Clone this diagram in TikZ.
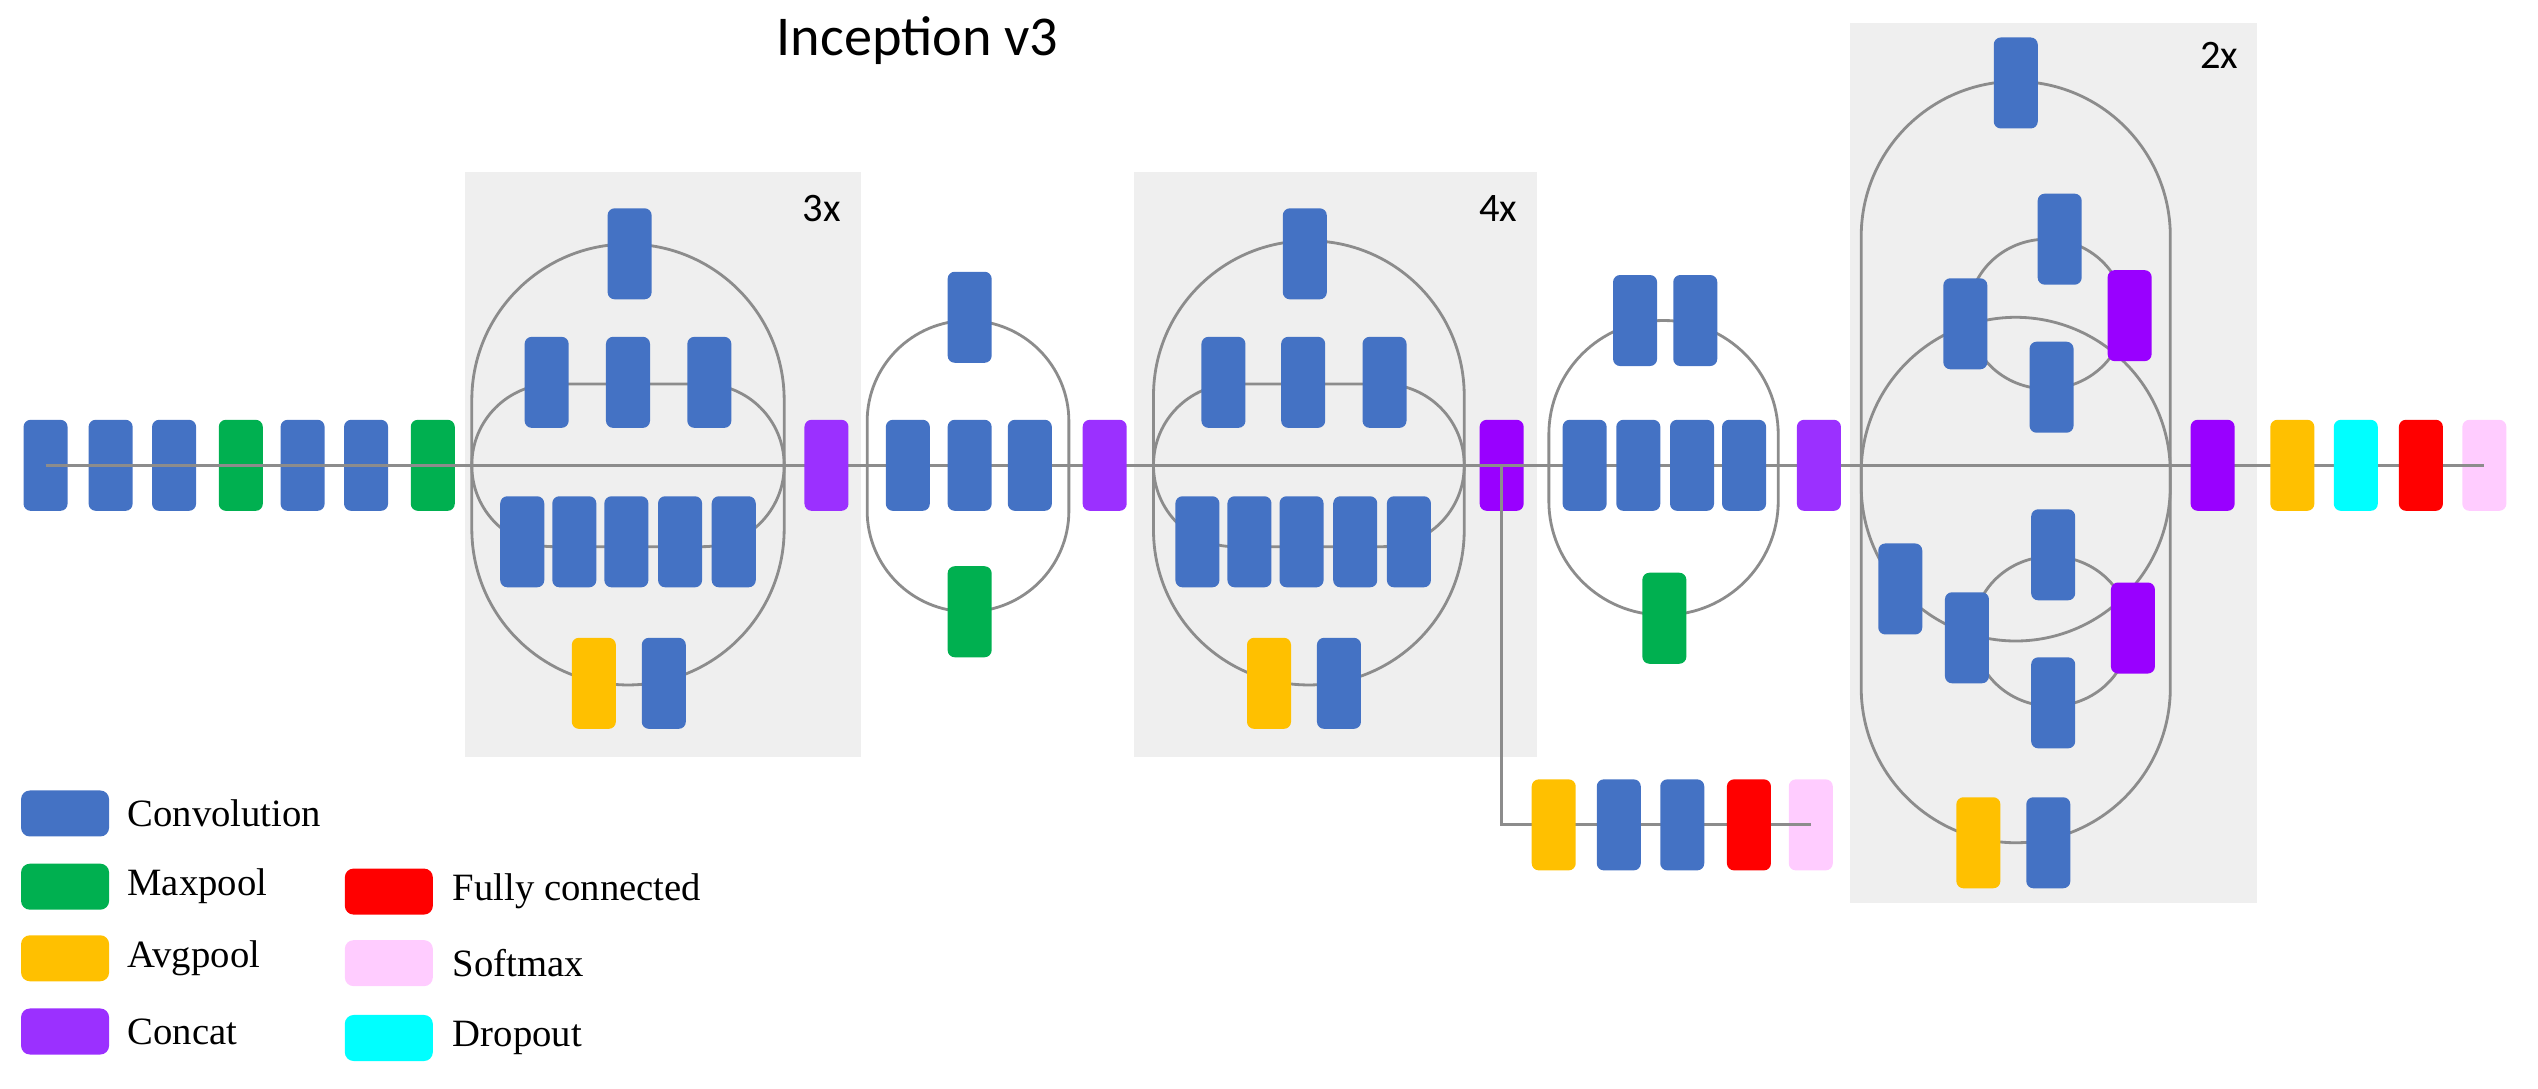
\documentclass[tikz,border=0pt]{standalone}
\usepackage{fontspec}
\setmainfont{Liberation Serif}
\newfontfamily\titlefont{Carlito}
\begin{document}
\definecolor{cconv}{HTML}{4472C4}
\definecolor{cmax}{HTML}{00B050}
\definecolor{cavg}{HTML}{FFC000}
\definecolor{ccat}{HTML}{9B30FF}
\definecolor{ccatb}{HTML}{9900FF}
\definecolor{cfc}{HTML}{FF0000}
\definecolor{csoft}{HTML}{FFCCFF}
\definecolor{cdrop}{HTML}{00FFFF}
\definecolor{cline}{HTML}{8C8C8C}
\definecolor{cbox}{HTML}{EFEFEF}
\begin{tikzpicture}[x=0.01627cm,y=-0.01627cm,
  blk/.style={rectangle,rounded corners=2pt,minimum width=0.44cm,minimum height=0.91cm,inner sep=0pt,draw=none},
  conv/.style={blk,fill=cconv},
  maxp/.style={blk,fill=cmax},
  avgp/.style={blk,fill=cavg},
  cat/.style={blk,fill=ccat},
  catb/.style={blk,fill=ccatb},
  fc/.style={blk,fill=cfc},
  soft/.style={blk,fill=csoft},
  drop/.style={blk,fill=cdrop},
  lg/.style={rectangle,rounded corners=2.5pt,minimum width=0.88cm,minimum height=0.46cm,inner sep=0pt},
  lgt/.style={anchor=west,font=\fontsize{11}{13}\selectfont,inner sep=0pt},
  wire/.style={draw=cline,line width=0.8pt},
  rep/.style={fill=cbox},
  mult/.style={font=\titlefont\fontsize{11.5}{13}\selectfont,inner sep=0pt}]
\useasboundingbox (0,0) rectangle (1560,669);
% grey repeat boxes
\fill[rep] (286,106) rectangle (529,465);
\fill[rep] (697,106) rectangle (945,465);
\fill[rep] (1137,14) rectangle (1387,555);
\node[mult] (m3) at (505,128) {3x};
\node[mult] (m4) at (921,128) {4x};
\node[mult] (m2) at (1364,34) {2x};
\node[font=\titlefont\fontsize{16}{19}\selectfont,inner sep=0pt] (title) at (564,25) {Inception v3};
% loops
\draw[wire,rounded corners=1.56cm] (290,150) rectangle (482,421);
\draw[wire,rounded corners=0.81cm] (290,236) rectangle (482,336);
\draw[wire,rounded corners=1.01cm] (533,197) rectangle (657,376);
\draw[wire,rounded corners=1.55cm] (709,148) rectangle (900,421);
\draw[wire,rounded corners=0.81cm] (709,236) rectangle (900,336);
\draw[wire,rounded corners=1.14cm] (952,197) rectangle (1093,378);
\draw[wire,rounded corners=1.55cm] (1144,50) rectangle (1334,518);
\draw[wire,rounded corners=1.55cm] (1144,195) rectangle (1334,394);
\draw[wire] (1258,193) ellipse [x radius=48,y radius=46];
\draw[wire] (1261,388) ellipse [x radius=48,y radius=46];
% stem
\node[conv] (s1) at (28,286) {};
\node[conv] (s2) at (68,286) {};
\node[conv] (s3) at (107,286) {};
\node[maxp] (s4) at (148,286) {};
\node[conv] (s5) at (186,286) {};
\node[conv] (s6) at (225,286) {};
\node[maxp] (s7) at (266,286) {};
% aux & main wires
\node[catb] (cC) at (923,286) {};
\node[soft] (pE) at (1527,286) {};
\node[soft] (xP) at (1113,507) {};
\coordinate (corner) at (923,507);
\draw[wire] (s1.center) -- (pE.center);
\draw[wire] (cC.center) -- (corner) -- (xP.center);
% module A
\node[conv] (a1) at (387,156) {};
\node[conv] (a2) at (336,235) {};
\node[conv] (a3) at (386,235) {};
\node[conv] (a4) at (436,235) {};
\node[conv] (a5) at (321,333) {};
\node[conv] (a6) at (353,333) {};
\node[conv] (a7) at (385,333) {};
\node[conv] (a8) at (418,333) {};
\node[conv] (a9) at (451,333) {};
\node[avgp] (a10) at (365,420) {};
\node[conv] (a11) at (408,420) {};
\node[cat] (cA) at (508,286) {};
% module B
\node[conv] (b1) at (596,195) {};
\node[conv] (b2) at (558,286) {};
\node[conv] (b3) at (596,286) {};
\node[conv] (b4) at (633,286) {};
\node[maxp] (b5) at (596,376) {};
\node[cat] (cB) at (679,286) {};
% module C
\node[conv] (c1) at (802,156) {};
\node[conv] (c2) at (752,235) {};
\node[conv] (c3) at (801,235) {};
\node[conv] (c4) at (851,235) {};
\node[conv] (c5) at (736,333) {};
\node[conv] (c6) at (768,333) {};
\node[conv] (c7) at (800,333) {};
\node[conv] (c8) at (833,333) {};
\node[conv] (c9) at (866,333) {};
\node[avgp] (c10) at (780,420) {};
\node[conv] (c11) at (823,420) {};
% aux
\node[avgp] (x1) at (955,507) {};
\node[conv] (x2) at (995,507) {};
\node[conv] (x3) at (1034,507) {};
\node[fc] (x4) at (1075,507) {};
% module D
\node[conv] (d1) at (1005,197) {};
\node[conv] (d2) at (1042,197) {};
\node[conv] (d3) at (974,286) {};
\node[conv] (d4) at (1007,286) {};
\node[conv] (d5) at (1040,286) {};
\node[conv] (d6) at (1072,286) {};
\node[maxp] (d7) at (1023,380) {};
\node[cat] (cD) at (1118,286) {};
% module E
\node[conv] (e1) at (1239,51) {};
\node[conv] (e2) at (1208,199) {};
\node[conv] (e3) at (1266,147) {};
\node[conv] (e4) at (1261,238) {};
\node[catb] (e5) at (1309,194) {};
\node[conv] (e6) at (1168,362) {};
\node[conv] (e7) at (1209,392) {};
\node[conv] (e8) at (1262,341) {};
\node[conv] (e9) at (1262,432) {};
\node[catb] (e10) at (1311,386) {};
\node[avgp] (e11) at (1216,518) {};
\node[conv] (e12) at (1259,518) {};
% head
\node[catb] (cE) at (1360,286) {};
\node[avgp] (h1) at (1409,286) {};
\node[drop] (h2) at (1448,286) {};
\node[fc] (h3) at (1488,286) {};
% legend
\node[lg,fill=cconv] (l1) at (40,500) {};
\node[lg,fill=cmax] (l2) at (40,545) {};
\node[lg,fill=cavg] (l3) at (40,589) {};
\node[lg,fill=ccat] (l4) at (40,634) {};
\node[lg,fill=cfc] (l5) at (239,548) {};
\node[lg,fill=csoft] (l6) at (239,592) {};
\node[lg,fill=cdrop] (l7) at (239,638) {};
\node[lgt] (t1) at (78,500) {Convolution};
\node[lgt] (t2) at (78,545) {Maxpool};
\node[lgt] (t3) at (78,589) {Avgpool};
\node[lgt] (t4) at (78,634) {Concat};
\node[lgt] (t5) at (278,548) {Fully connected};
\node[lgt] (t6) at (278,592) {Softmax};
\node[lgt] (t7) at (278,638) {Dropout};
\end{tikzpicture}
\end{document}
